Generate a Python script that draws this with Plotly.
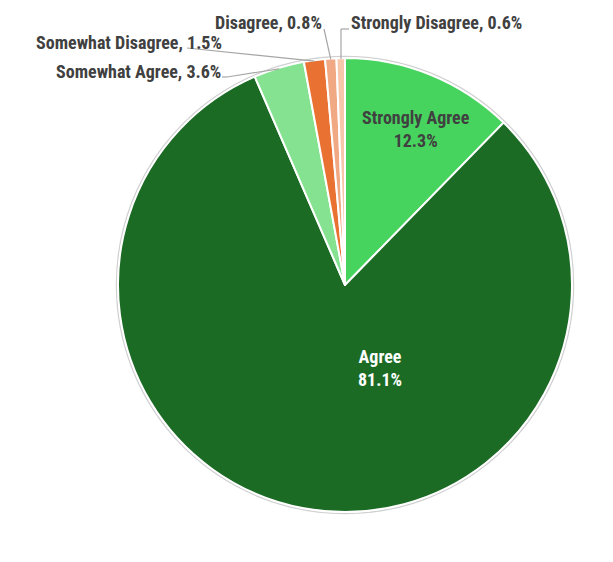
import math
import plotly.graph_objects as go

categories = ["Strongly Agree", "Agree", "Somewhat Agree", "Somewhat Disagree", "Disagree", "Strongly Disagree"]
values = [12.3, 81.1, 3.6, 1.5, 0.8, 0.6]
colors = ["#47D45E", "#1B6B25", "#84E291", "#E97132", "#F1A983", "#F7C7AC"]

W, H = 613, 562
OFF = 8  # page body margin
CX, CY, R = 345, 285, 227

def fx(px):
    return (px - OFF) / W

def fy(py):
    return 1 - (py - OFF) / H

FONT = "Roboto Condensed, Liberation Sans Narrow, Arial Narrow, DejaVu Sans Condensed, sans-serif"
TXT = "#404040"
FS = 18

fig = go.Figure(go.Pie(
    labels=categories, values=values, sort=False, direction="clockwise", rotation=0,
    marker=dict(colors=colors, line=dict(color="white", width=2)),
    textinfo="none", hoverinfo="label+percent", showlegend=False,
    domain=dict(x=[fx(CX - R), fx(CX + R)], y=[fy(CY + R), fy(CY - R)]),
))

total = sum(values)

def edge_point(i, rr=R):
    start = sum(values[:i]) / total
    mid = (start + values[i] / total / 2) * 2 * math.pi
    return CX + rr * math.sin(mid), CY - rr * math.cos(mid)

def pct(i):
    return f"{values[i]:.1f}%"

shapes = [
    dict(type="line", xref="paper", yref="paper", x0=fx(15), x1=fx(640), y0=fy(5), y1=fy(5),
         line=dict(color="#BFBFBF", width=2)),
    dict(type="circle", xref="paper", yref="paper", layer="below",
         x0=fx(CX - R - 1.5), x1=fx(CX + R + 1.5), y0=fy(CY + R + 1.5), y1=fy(CY - R - 1.5),
         line=dict(color="#D0D0D0", width=1.5)),
]

annotations = []
annotations.append(dict(x=fx(416), y=fy(129), xref="paper", yref="paper", showarrow=False,
                        text=f"<b>{categories[0]}<br>{pct(0)}</b>", font=dict(family=FONT, size=FS, color=TXT),
                        xanchor="center", yanchor="middle"))
annotations.append(dict(x=fx(380), y=fy(368), xref="paper", yref="paper", showarrow=False,
                        text=f"<b>{categories[1]}<br>{pct(1)}</b>", font=dict(family=FONT, size=FS, color="white"),
                        xanchor="center", yanchor="middle"))

outside = [
    (2, (223, 72), "right", [(222, 77), (227, 77)]),
    (3, (224, 42), "right", [(187, 48)]),
    (4, (324, 22), "right", [(324, 29)]),
    (5, (349, 22), "left", [(349, 29), (341, 29)]),
]
for i, (lx, ly), side, pts in outside:
    annotations.append(dict(x=fx(lx), y=fy(ly), xref="paper", yref="paper", showarrow=False,
                            text=f"<b>{categories[i]}, {pct(i)}</b>", font=dict(family=FONT, size=FS, color=TXT),
                            xanchor=side, yanchor="middle"))
    ex, ey = edge_point(i, R - 1)
    if i == 5:
        ex = pts[-1][0]
    poly = pts + [(ex, ey)]
    for (x0, y0), (x1, y1) in zip(poly[:-1], poly[1:]):
        shapes.append(dict(type="line", xref="paper", yref="paper", x0=fx(x0), y0=fy(y0), x1=fx(x1), y1=fy(y1),
                           line=dict(color="#A6A6A6", width=1.2)))

fig.update_layout(
    width=W, height=H, margin=dict(l=0, r=0, t=0, b=0),
    paper_bgcolor="white", plot_bgcolor="white",
    shapes=shapes, annotations=annotations,
    font=dict(family=FONT, color=TXT),
)
fig.write_html("out.html")
